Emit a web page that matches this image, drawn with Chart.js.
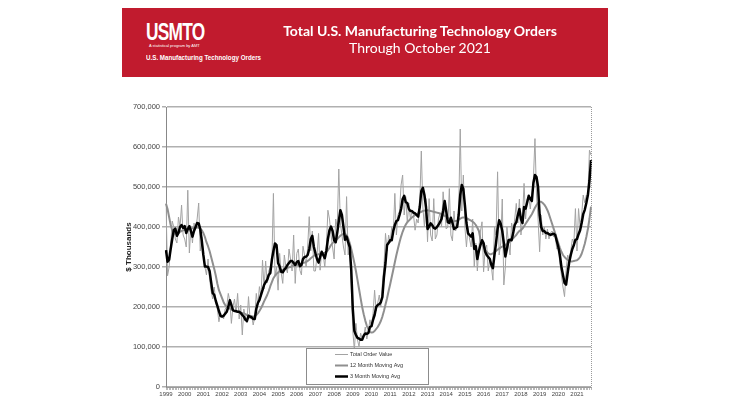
<!DOCTYPE html>
<html>
<head>
<meta charset="utf-8">
<script src="https://cdn.jsdelivr.net/npm/chart.js@4.4.1/dist/chart.umd.min.js"></script>
<style>
  html, body { margin: 0; padding: 0; background: #fff; }
  #wrap { position: relative; width: 736px; height: 414px; overflow: hidden; }
  #chartBox { position: absolute; left: 0; top: 0; width: 736px; height: 414px; }
  #banner { position: absolute; left: 122px; top: 8px; width: 486px; height: 69px; background: #c11b2e; color: #fff; }
  #banner div { position: absolute; white-space: nowrap; }
  #logo { left: 24px; top: 10px; font: bold 24px "Liberation Sans", Arial, sans-serif; letter-spacing: -1px; transform: scaleX(0.72); transform-origin: left top; }
  #tag { left: 27px; top: 35px; font: 4px "Liberation Sans", Arial, sans-serif; }
  #sub { left: 24px; top: 45px; font: bold 7.5px "Liberation Sans", Arial, sans-serif; transform: scaleX(0.83); transform-origin: left top; }
  #t1 { left: 108px; width: 380px; top: 14px; text-align: center; font: bold 14px Lato, sans-serif; line-height: 18px; }
  #t2 { left: 108px; width: 380px; top: 31px; text-align: center; font: 14px Lato, sans-serif; line-height: 18px; }
</style>
</head>
<body>
<div id="wrap">
  <div id="chartBox"><canvas id="ordersChart"></canvas></div>
  <div id="banner">
    <div id="logo">USMTO</div>
    <div id="tag">A statistical program by AMT</div>
    <div id="sub">U.S. Manufacturing Technology Orders</div>
    <div id="t1">Total U.S. Manufacturing Technology Orders</div>
    <div id="t2">Through October 2021</div>
  </div>
</div>
<script>
// Monthly data, Jan 1999 - Oct 2021, in thousands of $ thousands (342 = 342,000)
const years = ['1999', '2000', '2001', '2002', '2003', '2004', '2005', '2006', '2007', '2008', '2009', '2010',
               '2011', '2012', '2013', '2014', '2015', '2016', '2017', '2018', '2019', '2020', '2021'];
const monthsInLastYear = 10;

const yTickLabels = ['0', '100,000', '200,000', '300,000', '400,000', '500,000', '600,000', '700,000'];

const totalOrderValue = [
  460, 278, 300, 355, 415, 400, 370, 360, 425, 400, 455, 380,  // 1999
  370, 350, 492, 335, 400, 360, 410, 395, 420, 460, 340, 375,  // 2000
  330, 300, 280, 320, 270, 240, 220, 250, 210, 195, 163, 185,  // 2001
  180, 170, 195, 200, 234, 215, 159, 200, 220, 185, 234, 170,  // 2002
  205, 130, 195, 175, 160, 226, 170, 180, 155, 175, 234, 205,  // 2003
  251, 225, 317, 245, 315, 260, 290, 300, 310, 484, 280, 300,  // 2004
  242, 334, 285, 259, 330, 300, 285, 345, 320, 290, 380, 259,  // 2005
  334, 345, 292, 280, 352, 330, 300, 350, 426, 340, 390, 290,  // 2006
  290, 330, 384, 292, 340, 330, 300, 350, 442, 420, 380, 350,  // 2007
  320, 420, 400, 545, 410, 380, 350, 330, 476, 330, 342, 250,  // 2008
  140,  92, 159, 118, 101, 135, 120, 128, 150, 120, 140, 168,  // 2009
  150, 184, 242, 190, 210, 230, 200, 259, 301, 384, 340, 380,  // 2010
  360, 400, 384, 484, 380, 430, 440, 505, 530, 430, 476, 410,  // 2011
  460, 420, 440, 430, 392, 420, 410, 460, 590, 450, 400, 471,  // 2012
  363, 471, 380, 365, 471, 370, 380, 420, 435, 400, 488, 440,  // 2013
  395, 400, 496, 380, 365, 440, 390, 400, 440, 645, 440, 530,  // 2014
  400, 350, 400, 370, 350, 420, 300, 360, 290, 350, 390, 413,  // 2015
  288, 345, 355, 290, 320, 300, 267, 400, 380, 538, 330, 360,  // 2016
  470, 255, 300, 400, 360, 330, 410, 390, 420, 459, 410, 470,  // 2017
  380, 420, 509, 420, 470, 476, 445, 480, 520, 621, 480, 420,  // 2018
  338, 430, 380, 400, 370, 395, 370, 385, 390, 375, 380, 345,  // 2019
  347, 310, 280, 250, 226, 290, 330, 320, 340, 370, 360, 446,  // 2020
  340, 446, 400, 430, 480, 460, 480, 480, 592, 580             // 2021
];

const twelveMonthAvg = [
  458, 445, 425, 405, 392, 385, 383, 383, 385, 388, 390, 392,
  393, 394, 395, 396, 396, 397, 398, 398, 399, 398, 396, 392,
  385, 375, 362, 352, 340, 325, 310, 295, 278, 258, 242, 232,
  222, 212, 205, 200, 198, 196, 194, 192, 190, 189, 188, 187,
  186, 185, 184, 182, 180, 178, 177, 176, 176, 177, 180, 184,
  190, 197, 205, 214, 222, 230, 240, 252, 262, 272, 278, 283,
  286, 289, 291, 293, 295, 296, 298, 299, 300, 302, 303, 304,
  305, 306, 307, 308, 310, 311, 313, 315, 318, 322, 325, 328,
  330, 331, 332, 333, 334, 335, 336, 338, 342, 348, 355, 360,
  363, 366, 370, 374, 378, 381, 383, 383, 380, 372, 360, 345,
  328, 310, 290, 268, 245, 222, 200, 182, 166, 153, 144, 138,
  136, 137, 140, 145, 150, 157, 165, 176, 190, 206, 222, 240,
  257, 275, 293, 312, 330, 346, 362, 376, 388, 398, 406, 412,
  416, 420, 424, 427, 430, 432, 434, 436, 438, 440, 441, 442,
  442, 441, 440, 439, 438, 437, 436, 435, 434, 432, 430, 428,
  426, 423, 420, 418, 416, 415, 415, 416, 418, 421, 423, 424,
  424, 422, 420, 418, 416, 413, 410, 405, 398, 390, 370, 360,
  350, 343, 338, 334, 332, 332, 334, 337, 340, 343, 346, 349,
  351, 353, 355, 358, 361, 364, 368, 372, 376, 380, 386, 390,
  392, 396, 402, 408, 414, 420, 426, 432, 440, 448, 455, 460,
  463, 463, 460, 456, 450, 442, 432, 420, 408, 396, 384, 372,
  360, 348, 338, 330, 325, 321, 318, 316, 314, 314, 315, 316,
  317, 320, 325, 333, 345, 358, 375, 395, 420, 451
];

const threeMonthAvg = [
  342, 313, 318, 345, 370, 392, 396, 378, 385, 400, 405, 398,
  402, 385, 395, 402, 390, 376, 390, 400, 410, 409, 395, 365,
  330, 301, 301, 300, 290, 262, 235, 230, 215, 203, 190, 178,
  176, 178, 183, 188, 200, 217, 205, 192, 190, 190, 188, 188,
  185, 180, 176, 168, 165, 178, 176, 174, 170, 170, 195, 210,
  217, 230, 242, 255, 262, 268, 280, 285, 318, 340, 359, 355,
  310, 301, 288, 287, 293, 298, 305, 310, 315, 315, 310, 305,
  312, 315, 302, 305, 320, 325, 326, 330, 345, 370, 378, 350,
  334, 320, 311, 325, 338, 330, 322, 340, 370, 392, 401, 390,
  367, 362, 386, 415, 442, 430, 400, 368, 376, 362, 350, 292,
  195, 140, 130, 123, 121, 118, 118, 128, 134, 133, 135, 150,
  152, 168, 180, 200, 205, 207, 212, 225, 275, 310, 355, 360,
  367, 367, 390, 405, 415, 417, 430, 445, 470, 478, 462, 460,
  445, 440, 440, 436, 434, 430, 426, 450, 490, 498, 480, 450,
  395, 401, 409, 405, 398, 396, 400, 405, 412, 420, 440, 465,
  440, 412, 410, 423, 410, 395, 398, 400, 430, 480, 505, 495,
  455, 410, 384, 380, 376, 384, 345, 352, 320, 340, 355, 367,
  360, 338, 330, 325, 320, 305, 297, 330, 360, 395, 417, 408,
  390, 360, 326, 345, 367, 368, 367, 385, 405, 412, 430, 445,
  420, 410, 450, 446, 462, 478, 470, 465, 510, 530, 525, 500,
  430, 400, 390, 390, 385, 385, 382, 380, 382, 383, 380, 365,
  350, 330, 300, 280, 260, 256, 285, 312, 330, 345, 355, 368,
  370, 382, 392, 410, 432, 443, 460, 480, 515, 567
];

// one category per month, labelled by year on January
const monthLabels = [];
years.forEach((y, i) => {
  const n = i === years.length - 1 ? monthsInLastYear : 12;
  for (let m = 1; m <= n; m++) monthLabels.push(y + '-' + String(m).padStart(2, '0'));
});

const FONT = '"Liberation Sans", Arial, sans-serif';

// plot border on the right and the legend box sitting inside the plot
const overlayPlugin = {
  id: 'overlay',
  afterDatasetsDraw(chart) {
    const { ctx, chartArea: a } = chart;
    ctx.save();
    ctx.strokeStyle = '#9a9a9a';
    ctx.lineWidth = 1;
    ctx.setLineDash([1, 1]);
    ctx.beginPath();
    ctx.moveTo(a.right + 0.5, a.top);
    ctx.lineTo(a.right + 0.5, a.bottom);
    ctx.stroke();
    ctx.setLineDash([]);

    const x = a.left + 140, y = a.bottom - 39, w = 122, h = 36;
    ctx.fillStyle = '#fff';
    ctx.fillRect(x, y, w, h);
    ctx.strokeStyle = '#8c8c8c';
    ctx.strokeRect(x + 0.5, y + 0.5, w, h);

    ctx.font = '5.5px ' + FONT;
    ctx.textBaseline = 'middle';
    chart.data.datasets.forEach((ds, i) => {
      const ly = y + 6.5 + i * 11;
      ctx.strokeStyle = ds.borderColor;
      ctx.lineWidth = ds.borderWidth;
      ctx.beginPath();
      ctx.moveTo(x + 29, ly);
      ctx.lineTo(x + 42, ly);
      ctx.stroke();
      ctx.fillStyle = '#333';
      ctx.fillText(ds.label, x + 44, ly);
    });
    ctx.restore();
  }
};

function generateChart() {
  const ctx = document.getElementById('ordersChart').getContext('2d');

  const chartData = {
    labels: monthLabels,
    datasets: [
      { label: 'Total Order Value', data: totalOrderValue, borderColor: '#a3a3a3', borderWidth: 1, order: 3 },
      { label: '12 Month Moving Avg', data: twelveMonthAvg, borderColor: '#8f8f8f', borderWidth: 2, order: 2 },
      { label: '3 Month Moving Avg', data: threeMonthAvg, borderColor: '#000000', borderWidth: 2.5, order: 1 }
    ]
  };

  const chartOptions = {
    responsive: true,
    maintainAspectRatio: false,
    animation: false,
    layout: { padding: { left: 120, right: 145, top: 107, bottom: 7 } },
    elements: {
      point: { radius: 0, hoverRadius: 0 },
      line: { tension: 0, borderJoinStyle: 'round', fill: false }
    },
    plugins: { legend: { display: false }, tooltip: { enabled: false } },
    scales: {
      x: {
        type: 'category',
        offset: false,
        afterFit: (s) => { s.height = 20; },
        grid: { drawOnChartArea: false, drawTicks: true, tickLength: 3, color: '#b8b8b8' },
        border: { color: '#9a9a9a' },
        ticks: {
          autoSkip: false,
          maxRotation: 0,
          padding: 1,
          color: '#444',
          font: { family: FONT, size: 6 },
          callback: (v, i) => (i % 12 === 0 ? years[i / 12] : '')
        }
      },
      y: {
        min: 0,
        max: 700,
        afterFit: (s) => { s.width = 46; },
        grid: { color: '#b0b0b0', lineWidth: 1.5, tickLength: 4 },
        border: { color: '#888' },
        ticks: {
          stepSize: 100,
          padding: 2,
          color: '#444',
          font: { family: FONT, size: 7.5 },
          callback: (v, i) => yTickLabels[i]
        },
        title: {
          display: true,
          text: '$ Thousands',
          color: '#222',
          font: { family: FONT, size: 8, weight: 'bold' }
        }
      }
    }
  };

  new Chart(ctx, { type: 'line', data: chartData, options: chartOptions, plugins: [overlayPlugin] });
}

generateChart();
</script>
</body>
</html>
